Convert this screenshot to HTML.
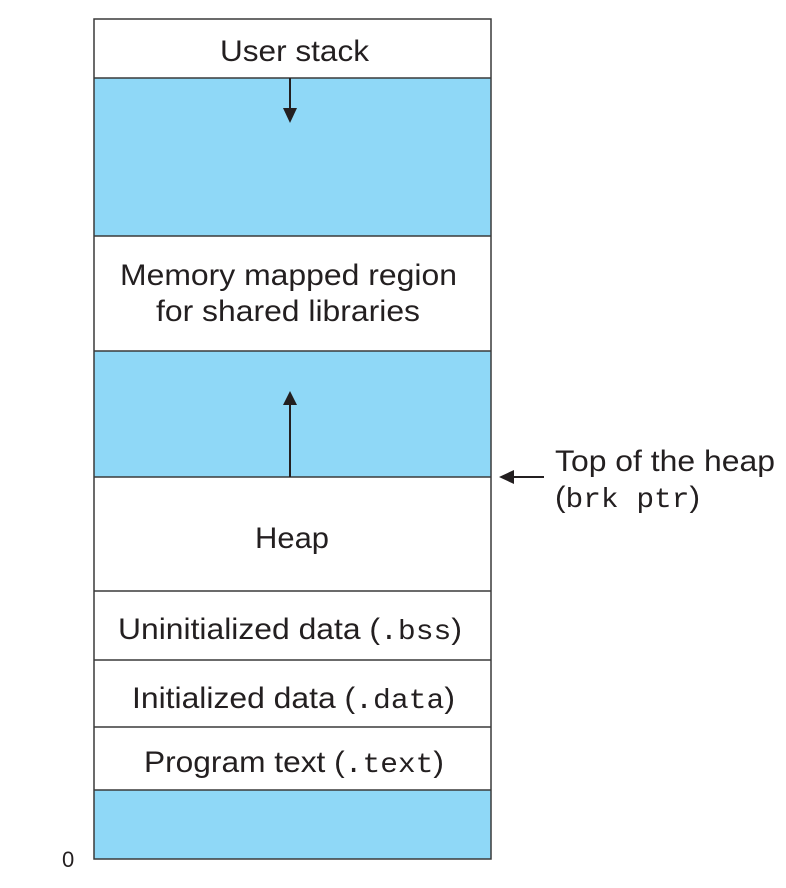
<!DOCTYPE html>
<html><head><style>
body{margin:0;background:#fff;}
text{font-family:"Liberation Sans",sans-serif;font-size:30px;fill:#231f20;}
.m{font-family:"Liberation Mono",monospace;font-size:28px;}
</style></head><body>
<svg width="786" height="883" viewBox="0 0 786 883" xmlns="http://www.w3.org/2000/svg">
<rect x="94" y="19" width="397" height="840" fill="#fff"/>
<rect x="94" y="78" width="397" height="158" fill="#8fd8f7"/>
<rect x="94" y="351" width="397" height="126" fill="#8fd8f7"/>
<rect x="94" y="790" width="397" height="69" fill="#8fd8f7"/>
<g stroke="#3a3a3a" stroke-width="1.5" fill="none">
<rect x="94" y="19" width="397" height="840"/>
<line x1="94" y1="78" x2="491" y2="78"/>
<line x1="94" y1="236" x2="491" y2="236"/>
<line x1="94" y1="351" x2="491" y2="351"/>
<line x1="94" y1="477" x2="491" y2="477"/>
<line x1="94" y1="591" x2="491" y2="591"/>
<line x1="94" y1="660" x2="491" y2="660"/>
<line x1="94" y1="727" x2="491" y2="727"/>
<line x1="94" y1="790" x2="491" y2="790"/>
</g>
<g stroke="#231f20" stroke-width="2">
<line x1="290" y1="78" x2="290" y2="110"/>
<line x1="290" y1="477" x2="290" y2="403"/>
<line x1="512" y1="477" x2="544" y2="477"/>
</g>
<g fill="#231f20">
<polygon points="283,108 297,108 290,123"/>
<polygon points="283,405 297,405 290,391"/>
<polygon points="499,477 514,470 514,484"/>
</g>
<text x="220" y="61" textLength="149" lengthAdjust="spacingAndGlyphs">User stack</text>
<text x="120" y="285" textLength="337" lengthAdjust="spacingAndGlyphs">Memory mapped region</text>
<text x="156" y="321" textLength="264" lengthAdjust="spacingAndGlyphs">for shared libraries</text>
<text x="255" y="548" textLength="74" lengthAdjust="spacingAndGlyphs">Heap</text>
<text x="118" y="639" textLength="344" lengthAdjust="spacingAndGlyphs">Uninitialized data (<tspan class="m">.bss</tspan>)</text>
<text x="132" y="708" textLength="323" lengthAdjust="spacingAndGlyphs">Initialized data (<tspan class="m">.data</tspan>)</text>
<text x="144" y="772" textLength="300" lengthAdjust="spacingAndGlyphs">Program text (<tspan class="m">.text</tspan>)</text>
<text x="555" y="471" textLength="220" lengthAdjust="spacingAndGlyphs">Top of the heap</text>
<text x="555" y="507" textLength="145" lengthAdjust="spacingAndGlyphs">(<tspan class="m">brk ptr</tspan>)</text>
<text x="62" y="867" style="font-size:22px">0</text>
</svg>
</body></html>
